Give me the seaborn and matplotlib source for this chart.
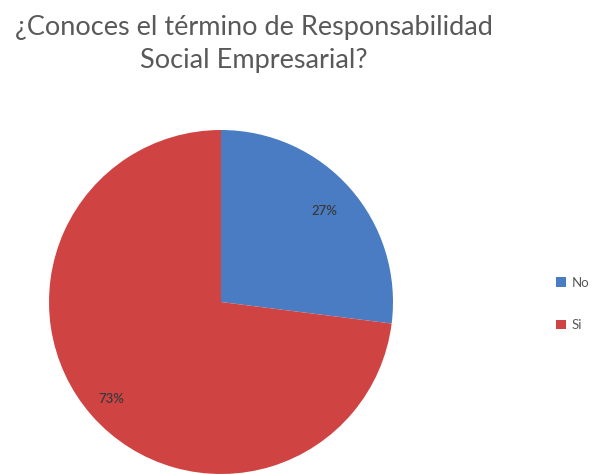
import matplotlib
matplotlib.use("Agg")
import matplotlib.pyplot as plt
import seaborn as sns
from matplotlib.patches import Patch

sns.set_theme(style="white")
plt.rcParams["font.family"] = ["Lato", "DejaVu Sans"]

# Survey answers
categories = ["No", "Si"]
shares = [27, 73]
colors = ["#4A7CC4", "#CF4442"]
title = "¿Conoces el término de Responsabilidad\nSocial Empresarial?"

W, H = 592, 474
fig = plt.figure(figsize=(W / 100, H / 100), dpi=100)
ax = fig.add_axes([0, 0, 1, 1])

wedges, texts, autotexts = ax.pie(
    shares,
    colors=colors,
    startangle=90,
    counterclock=False,
    center=(221, H - 302),
    radius=172,
    autopct=lambda p: f"{p:.0f}%",
    pctdistance=0.8,
    textprops=dict(fontsize=9.5, color="#3a3a3a"),
    wedgeprops=dict(linewidth=0),
    frame=True,
)
for t in autotexts:
    t.set_fontweight("semibold")
autotexts[1].set_position((111, H - 399))
ax.set_xlim(0, W)
ax.set_ylim(0, H)
ax.set_aspect("equal")
ax.axis("off")

fig.text(254 / W, 1 - 44 / H, title, ha="center", va="center",
         fontsize=19.5, color="#595959", linespacing=1.42)

handles = [Patch(facecolor=c, edgecolor="none") for c in colors]
leg = fig.legend(handles, categories, loc="center left",
                 bbox_to_anchor=(544 / W, 1 - 304 / H), frameon=False,
                 fontsize=9.5, handlelength=0.75, handleheight=0.75,
                 handletextpad=0.45, labelspacing=2.3)
for t in leg.get_texts():
    t.set_color("#595959")

fig.savefig("out.png", dpi=100)
